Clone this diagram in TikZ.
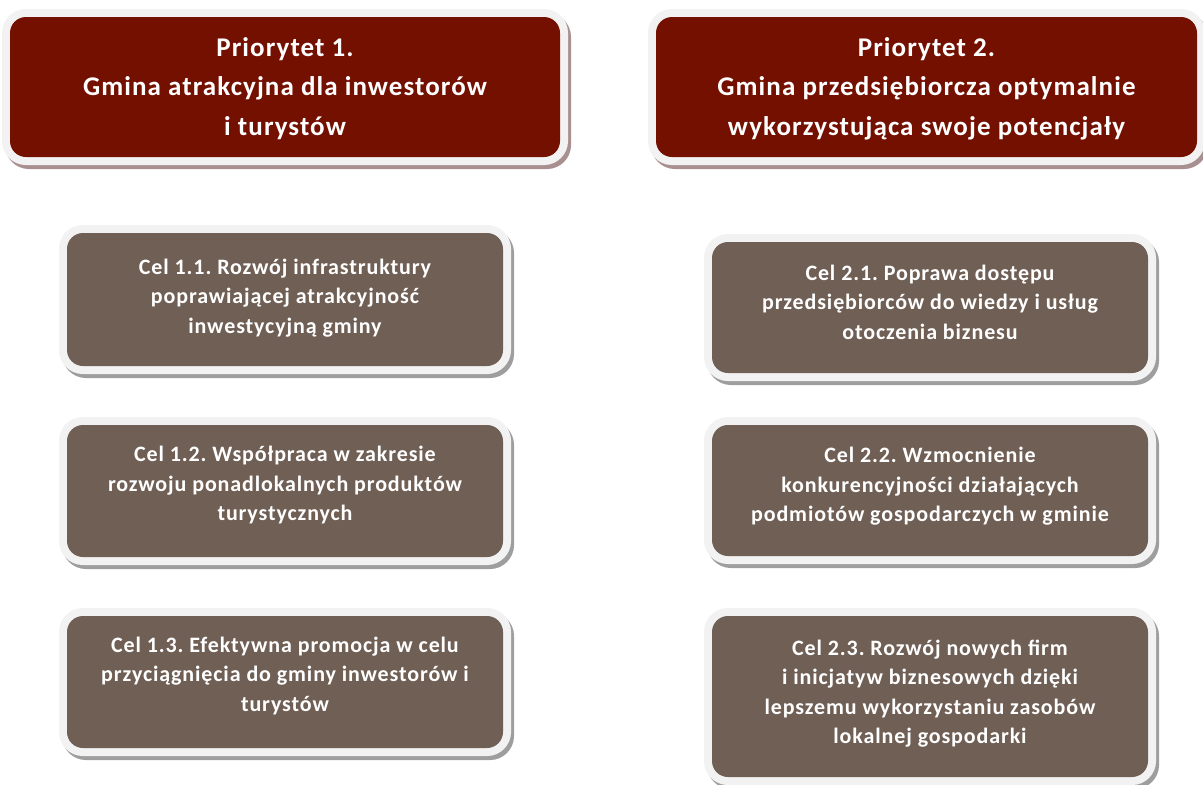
\documentclass[tikz,border=0pt]{standalone}
\usepackage{fontspec}
\setmainfont{Carlito}
\newfontfamily\boxfont[LetterSpace=4]{Carlito}
\frenchspacing
\definecolor{prired}{HTML}{731000}
\definecolor{celbrown}{HTML}{705F55}
\definecolor{framecol}{HTML}{F2F2F2}
\definecolor{shadowred}{HTML}{A89090}
\definecolor{shadowgray}{HTML}{9E9E9E}
\tikzset{
  framed/.style n args={2}{
    preaction={draw=#2, line width=16pt, transform canvas={xshift=3pt,yshift=-4pt}},
    preaction={draw=framecol, line width=16pt},
    fill=#1, rounded corners=16pt, draw=none, text=white, align=center,
    inner sep=0pt},
  prio/.style={framed={prired}{shadowred}},
  celbox/.style={framed={celbrown}{shadowgray}},
  priotext/.style={text=white, align=center, inner sep=0pt,
    font=\boxfont\bfseries\fontsize{27}{39.5}\selectfont},
  celtext/.style={text=white, align=center, inner sep=0pt,
    font=\boxfont\bfseries\fontsize{22}{29.5}\selectfont},
}
\begin{document}
\begin{tikzpicture}[x=1pt,y=-1pt]
\useasboundingbox (0,0) rectangle (1203,785);
% priorities
\node[prio, minimum width=550pt, minimum height=140pt] (p1) at (285,87) {};
\node[prio, minimum width=541pt, minimum height=140pt] (p2) at (926.5,87) {};
% goals of priority 1
\node[celbox, minimum width=436pt, minimum height=133pt] (c11) at (285,299.5) {};
\node[celbox, minimum width=436pt, minimum height=132pt] (c12) at (285,491) {};
\node[celbox, minimum width=436pt, minimum height=132pt] (c13) at (285,682) {};
% goals of priority 2
\node[celbox, minimum width=436pt, minimum height=131pt] (c21) at (930,307.5) {};
\node[celbox, minimum width=436pt, minimum height=131pt] (c22) at (930,490.5) {};
\node[celbox, minimum width=436pt, minimum height=161pt] (c23) at (930,696.5) {};
% texts
\node[priotext] (tp1) at ([yshift=-1.5pt]p1.center) {Priorytet 1.\\Gmina atrakcyjna dla inwestorów\\i turystów};
\node[priotext] (tp2) at ([yshift=-1.5pt]p2.center) {Priorytet 2.\\Gmina przedsiębiorcza optymalnie\\wykorzystująca swoje potencjały};
\node[celtext] (t11) at ([yshift=1.5pt]c11.center) {Cel 1.1. Rozwój infrastruktury\\poprawiającej atrakcyjność\\inwestycyjną gminy};
\node[celtext] (t12) at ([yshift=5.5pt]c12.center) {Cel 1.2. Współpraca w zakresie\\rozwoju ponadlokalnych produktów\\turystycznych};
\node[celtext] (t13) at ([yshift=6pt]c13.center) {Cel 1.3. Efektywna promocja w celu\\przyciągnięcia do gminy inwestorów i\\turystów};
\node[celtext] (t21) at ([yshift=5.5pt]c21.center) {Cel 2.1. Poprawa dostępu\\przedsiębiorców do wiedzy i usług\\otoczenia biznesu};
\node[celtext] (t22) at ([yshift=4pt]c22.center) {Cel 2.2. Wzmocnienie\\konkurencyjności działających\\podmiotów gospodarczych w gminie};
\node[celtext] (t23) at ([yshift=3pt]c23.center) {Cel 2.3. Rozwój nowych firm\\i inicjatyw biznesowych dzięki\\lepszemu wykorzystaniu zasobów\\lokalnej gospodarki};
\end{tikzpicture}
\end{document}
